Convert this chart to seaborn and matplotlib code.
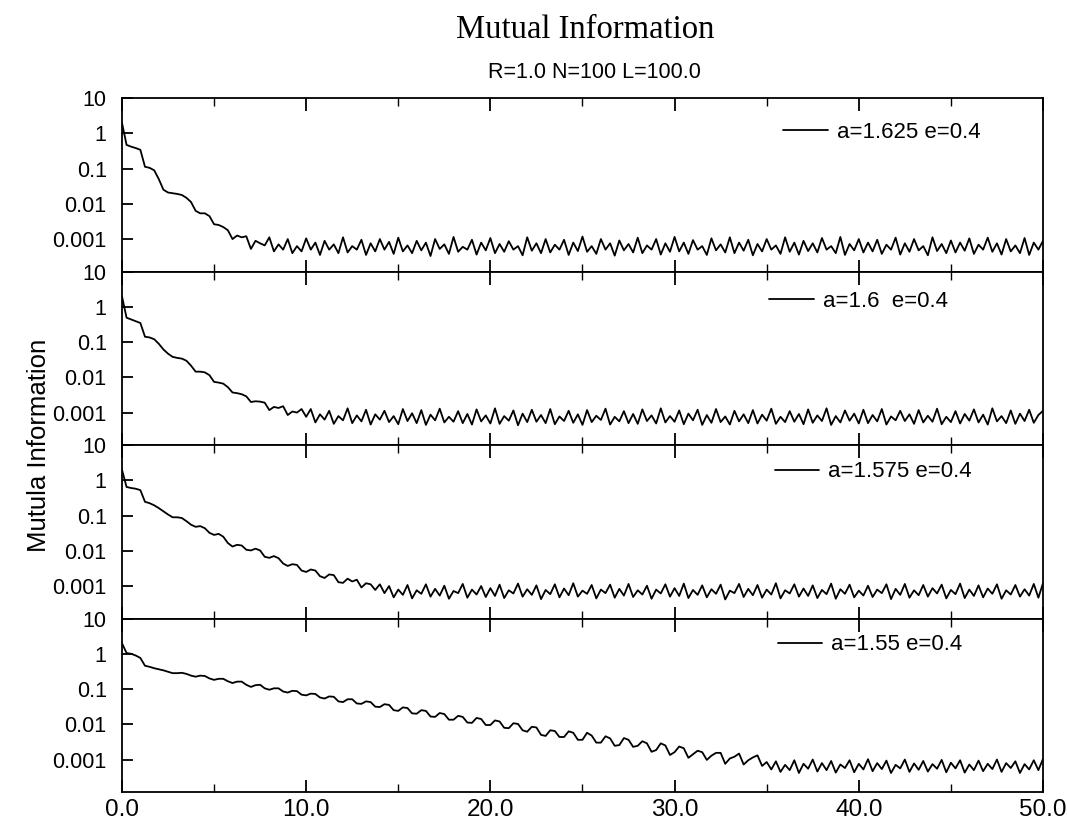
import numpy as np
import matplotlib
matplotlib.use('Agg')
import matplotlib.pyplot as plt
import seaborn as sns
from matplotlib.ticker import LogLocator, NullFormatter, MultipleLocator

# lag axis sampled every 0.25 from 0 to 50
lag = np.arange(201) * 0.25

labels = ['a=1.625 e=0.4', 'a=1.6  e=0.4', 'a=1.575 e=0.4', 'a=1.55 e=0.4']

# log10 of mutual information
log_mi_1625 = [
    0.3, -0.33, -0.38, -0.42, -0.47, -0.95, -0.98, -1.05,
    -1.3, -1.6, -1.68, -1.7, -1.72, -1.75, -1.83, -1.95,
    -2.2, -2.27, -2.27, -2.35, -2.58, -2.6, -2.66, -2.75,
    -3.0, -2.9, -2.95, -2.92, -3.28, -3.05, -3.12, -3.18,
    -2.95, -3.35, -3.15, -3.3, -3.0, -3.4, -3.2, -3.35,
    -2.98, -3.3, -3.1, -3.45, -3.05, -3.3, -3.15, -3.4,
    -2.95, -3.38, -3.2, -3.3, -3.02, -3.45, -3.12, -3.35,
    -3.0, -3.3, -3.08, -3.42, -2.96, -3.35, -3.18, -3.4,
    -3.05, -3.32, -3.1, -3.48, -3.0, -3.28, -3.15, -3.42,
    -2.94, -3.36, -3.22, -3.3, -3.02, -3.44, -3.1, -3.32,
    -2.97, -3.4, -3.14, -3.36, -3.06, -3.3, -3.2, -3.46,
    -2.95, -3.33, -3.12, -3.4, -3.0, -3.38, -3.16, -3.3,
    -3.02, -3.45, -3.1, -3.34, -2.93, -3.36, -3.2, -3.42,
    -3.0, -3.3, -3.12, -3.47, -3.04, -3.32, -3.14, -3.38,
    -2.96, -3.4, -3.18, -3.3, -3.0, -3.44, -3.12, -3.36,
    -2.94, -3.35, -3.1, -3.42, -3.03, -3.3, -3.2, -3.45,
    -2.98, -3.32, -3.15, -3.38, -2.95, -3.4, -3.1, -3.33,
    -3.02, -3.46, -3.14, -3.35, -3.0, -3.3, -3.18, -3.42,
    -2.95, -3.36, -3.1, -3.44, -3.05, -3.34, -3.12, -3.38,
    -2.97, -3.3, -3.2, -3.4, -2.94, -3.45, -3.14, -3.32,
    -3.0, -3.38, -3.1, -3.35, -3.02, -3.42, -3.16, -3.3,
    -2.96, -3.44, -3.12, -3.36, -3.0, -3.32, -3.2, -3.46,
    -2.95, -3.34, -3.14, -3.4, -3.04, -3.38, -3.1, -3.33,
    -2.98, -3.42, -3.16, -3.3, -2.96, -3.36, -3.12, -3.44,
    -3.0, -3.35, -3.18, -3.4, -2.97, -3.45, -3.1, -3.3,
    -3.05,
]

log_mi_1600 = [
    0.3, -0.31, -0.36, -0.41, -0.46, -0.85, -0.87, -0.92,
    -1.05, -1.21, -1.33, -1.42, -1.45, -1.47, -1.53, -1.67,
    -1.84, -1.84, -1.86, -1.94, -2.13, -2.15, -2.18, -2.28,
    -2.43, -2.45, -2.48, -2.54, -2.7, -2.68, -2.69, -2.72,
    -2.93, -2.84, -2.87, -2.82, -3.07, -2.97, -3.0, -2.9,
    -3.12,
    -2.9, -3.28, -3.05, -3.2, -2.95, -3.32, -3.1, -3.22,
    -2.88, -3.3, -3.08, -3.25, -2.92, -3.34, -3.05, -3.2,
    -2.95, -3.27, -3.1, -3.33, -2.9, -3.24, -3.02, -3.3,
    -2.93, -3.35, -3.06, -3.22, -2.89, -3.28, -3.12, -3.26,
    -2.96, -3.3, -3.04, -3.34, -2.91, -3.25, -3.08, -3.31,
    -2.88, -3.32, -3.1, -3.23, -2.94, -3.36, -3.03, -3.27,
    -2.92, -3.26, -3.07, -3.3, -2.9, -3.33, -3.11, -3.24,
    -2.95, -3.29, -3.05, -3.35, -2.93, -3.27, -3.09, -3.21,
    -2.89, -3.34, -3.12, -3.25, -2.96, -3.3, -3.04, -3.32,
    -2.91, -3.24, -3.08, -3.31, -2.88, -3.28, -3.1, -3.26,
    -2.94, -3.33, -3.03, -3.22, -2.92, -3.35, -3.07, -3.29,
    -2.9, -3.27, -3.11, -3.34, -2.95, -3.25, -3.05, -3.3,
    -2.93, -3.31, -3.06, -3.23, -2.89, -3.32, -3.12, -3.27,
    -2.96, -3.26, -3.04, -3.33, -2.91, -3.29, -3.08, -3.24,
    -2.88, -3.35, -3.1, -3.28, -2.94, -3.23, -3.03, -3.31,
    -2.92, -3.3, -3.07, -3.25, -2.9, -3.34, -3.11, -3.22,
    -2.95, -3.24, -3.05, -3.32, -2.93, -3.28, -3.09, -3.26,
    -2.89, -3.33, -3.12, -3.27, -2.96, -3.31, -3.04, -3.23,
    -2.91, -3.28, -3.06, -3.34, -2.88, -3.25, -3.1, -3.3,
    -2.94, -3.32, -3.03, -3.24, -2.92, -3.29, -3.07, -2.95,
]

log_mi_1575 = [
    0.3, -0.19, -0.22, -0.24, -0.28, -0.61, -0.65, -0.71,
    -0.79, -0.88, -0.97, -1.05, -1.05, -1.07, -1.16, -1.26,
    -1.32, -1.30, -1.36, -1.49, -1.55, -1.52, -1.60, -1.78,
    -1.88, -1.83, -1.85, -1.97, -1.99, -1.94, -1.99, -2.17,
    -2.20, -2.15, -2.21, -2.36, -2.43, -2.38, -2.40, -2.56,
    -2.60, -2.53, -2.56, -2.72, -2.77, -2.67, -2.69, -2.89,
    -2.91, -2.79, -2.87, -2.82, -3.04, -2.92, -2.95, -3.11,
    -2.95,
    -3.2, -3.0, -3.32, -3.1, -3.25, -2.97, -3.35, -3.12,
    -3.22, -2.95, -3.3, -3.08, -3.27, -2.99, -3.36, -3.14,
    -3.2, -2.94, -3.33, -3.1, -3.24, -3.0, -3.31, -3.06,
    -3.28, -2.96, -3.34, -3.12, -3.21, -2.93, -3.3, -3.09,
    -3.25, -2.98, -3.37, -3.11, -3.23, -2.95, -3.32, -3.07,
    -3.26, -2.92, -3.3, -3.13, -3.22, -2.97, -3.35, -3.1,
    -3.2, -2.96, -3.33, -3.08, -3.27, -2.94, -3.31, -3.12,
    -3.24, -2.99, -3.36, -3.1, -3.21, -2.95, -3.3, -3.06,
    -3.28, -2.93, -3.34, -3.11, -3.25, -2.98, -3.32, -3.09,
    -3.22, -2.96, -3.38, -3.13, -3.2, -2.94, -3.31, -3.08,
    -3.26, -2.97, -3.33, -3.1, -3.24, -2.92, -3.35, -3.12,
    -3.21, -2.95, -3.3, -3.07, -3.28, -2.98, -3.34, -3.11,
    -3.23, -2.93, -3.36, -3.09, -3.22, -2.96, -3.32, -3.13,
    -3.27, -2.99, -3.31, -3.1, -3.2, -2.95, -3.37, -3.08,
    -3.25, -2.94, -3.33, -3.12, -3.26, -2.97, -3.3, -3.06,
    -3.21, -2.96, -3.35, -3.11, -3.23, -2.93, -3.34, -3.1,
    -3.28, -2.98, -3.32, -3.07, -3.22, -2.95, -3.36, -3.12,
    -3.24, -2.97, -3.3, -3.09, -3.27, -2.94, -3.33, -2.92,
]

log_mi_1550 = [
    0.3, 0.02, 0.0, -0.05, -0.12, -0.34, -0.37, -0.41,
    -0.44, -0.47, -0.51, -0.55, -0.55, -0.54, -0.57, -0.62,
    -0.65, -0.62, -0.63, -0.70, -0.74, -0.71, -0.71, -0.78,
    -0.83, -0.79, -0.79, -0.88, -0.94, -0.89, -0.88, -0.98,
    -1.02, -0.98, -0.98, -1.07, -1.10, -1.05, -1.06, -1.16,
    -1.18, -1.13, -1.14, -1.24, -1.27, -1.21, -1.22, -1.35,
    -1.37, -1.29, -1.29, -1.41, -1.42, -1.35, -1.37, -1.50,
    -1.51, -1.43, -1.45, -1.60, -1.62, -1.52, -1.54, -1.69,
    -1.70, -1.60, -1.62, -1.78, -1.79, -1.68, -1.71, -1.87,
    -1.87, -1.76, -1.79, -1.95, -1.96, -1.82, -1.85, -2.02,
    -2.02, -1.89, -1.92, -2.10, -2.11, -1.97, -1.99, -2.17,
    -2.21, -2.07, -2.09, -2.30, -2.33, -2.17, -2.19, -2.36,
    -2.36, -2.20, -2.24, -2.44, -2.44, -2.24, -2.32, -2.52,
    -2.52, -2.34, -2.40, -2.61, -2.59, -2.39, -2.44, -2.64,
    -2.61, -2.48, -2.54, -2.78, -2.73, -2.54, -2.60, -2.87,
    -2.79, -2.63, -2.68, -2.95, -2.85, -2.75, -2.79, -3.01,
    -2.89, -2.81, -2.81, -3.12, -2.97, -2.92, -2.83, -3.14,
    -3.02, -2.94, -2.88, -3.18, -3.07,
    -3.28, -3.05, -3.35, -3.15, -3.3, -3.02, -3.38, -3.12,
    -3.26, -3.0, -3.34, -3.1, -3.3, -3.04, -3.37, -3.14,
    -3.24, -3.02, -3.36, -3.12, -3.28, -2.99, -3.33, -3.1,
    -3.27, -3.03, -3.38, -3.15, -3.25, -3.0, -3.35, -3.11,
    -3.29, -3.04, -3.34, -3.13, -3.26, -3.01, -3.36, -3.09,
    -3.25, -3.02, -3.37, -3.14, -3.3, -3.03, -3.33, -3.12,
    -3.27, -3.0, -3.35, -3.1, -3.24, -3.05, -3.38, -3.13,
    -3.28, -3.02, -3.3, -2.98,
]

series = [log_mi_1625, log_mi_1600, log_mi_1575, log_mi_1550]
legend_pos = [(0.718, 0.80), (0.703, 0.83), (0.709, 0.845), (0.712, 0.848)]

sns.set_style('ticks')
plt.rcParams['font.family'] = ['Liberation Sans', 'DejaVu Sans']
plt.rcParams['axes.linewidth'] = 1.3
for key in ['text.color', 'axes.labelcolor', 'xtick.color', 'ytick.color', 'axes.edgecolor']:
    plt.rcParams[key] = 'black'

fig, axes = plt.subplots(4, 1, figsize=(10.67, 8.25), dpi=100, sharex=True)
fig.subplots_adjust(left=0.1143, right=0.9775, top=0.8812, bottom=0.04, hspace=0)

for ax, vals, lbl, pos in zip(axes, series, labels, legend_pos):
    ax.set_yscale('log')
    sns.lineplot(x=lag, y=10 ** np.array(vals), ax=ax, color='black',
                 linewidth=1.3, label=lbl)
    ax.set_xlim(0, 50)
    ax.set_ylim(10 ** -3.92, 10)
    ax.set_yticks([0.001, 0.01, 0.1, 1, 10], labels=['0.001', '0.01', '0.1', '1', '10'])
    ax.yaxis.set_minor_locator(LogLocator(base=10, subs=np.arange(2, 10)))
    ax.yaxis.set_minor_formatter(NullFormatter())
    ax.xaxis.set_major_locator(MultipleLocator(10))
    ax.xaxis.set_minor_locator(MultipleLocator(5))
    ax.tick_params(axis='both', which='both', direction='in', top=True, right=False)
    ax.tick_params(axis='y', which='major', length=8, width=1.3, labelsize=15.5, pad=11)
    ax.tick_params(axis='y', which='minor', length=4, width=1)
    ax.tick_params(axis='x', which='major', length=9, width=1.3, labelsize=17.5, pad=5)
    ax.tick_params(axis='x', which='minor', length=6, width=1)
    ax.set_xlabel('')
    ax.set_ylabel('')
    ax.legend(loc='center left', bbox_to_anchor=pos, frameon=False, fontsize=16,
              handlelength=2.0, handletextpad=0.4, borderaxespad=0, borderpad=0)

axes[-1].set_xticks([0, 10, 20, 30, 40, 50], labels=['0.0', '10.0', '20.0', '30.0', '40.0', '50.0'])

fig.text(0.548, 1 - 30 / 825, 'Mutual Information', ha='center', va='center',
         fontsize=23.5, family=['Liberation Serif', 'DejaVu Serif'])
fig.text(0.557, 1 - 72 / 825, 'R=1.0 N=100 L=100.0', ha='center', va='center', fontsize=15.5)
fig.text(0.037, 0.46, 'Mutula Information', rotation=90, ha='center', va='center', fontsize=18.5)

plt.savefig('out.png', dpi=100)
